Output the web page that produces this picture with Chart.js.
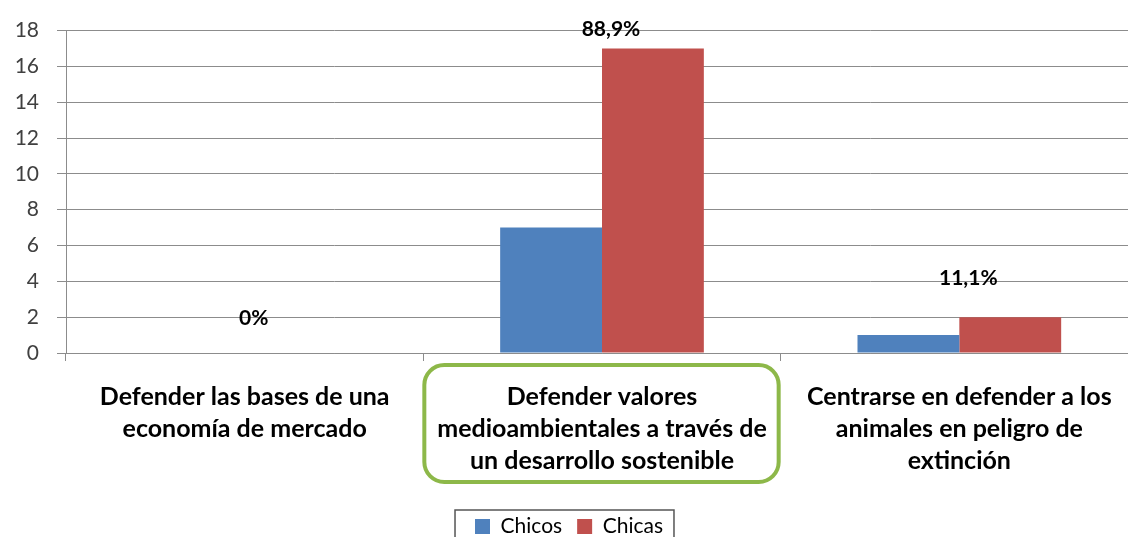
<!DOCTYPE html>
<html>
<head>
<meta charset="utf-8">
<script src="https://cdn.jsdelivr.net/npm/chart.js@4"></script>
<style>
  body { margin: 0; background: #fff; overflow: hidden; }
  #wrap { width: 1140px; height: 547px; }
</style>
</head>
<body>
<div id="wrap"><canvas id="chart" width="1140" height="547"></canvas></div>
<script>
const categories = [
  ["Defender las bases de una", "economía de mercado"],
  ["Defender valores", "medioambientales a través de", "un desarrollo sostenible"],
  ["Centrarse en defender a los", "animales en peligro de", "extinción"]
];
const chicos = [0, 7, 1];
const chicas = [0, 17, 2];
const pctLabels = ["0%", "88,9%", "11,1%"];
const pctLabelAt = [1.93, 18.07, 4.2];
const yTicks = [0, 2, 4, 6, 8, 10, 12, 14, 16, 18];

// percentages above each group
const pctPlugin = {
  id: "pctLabels",
  afterDatasetsDraw(chart) {
    const ctx = chart.ctx;
    const x = chart.scales.x;
    const y = chart.scales.y;
    ctx.save();
    ctx.font = "bold 21px Lato";
    ctx.fillStyle = "#000";
    ctx.textAlign = "center";
    ctx.textBaseline = "middle";
    pctLabels.forEach(function (txt, i) {
      ctx.fillText(txt, x.getPixelForValue(i) + 9, y.getPixelForValue(pctLabelAt[i]));
    });
    ctx.restore();
  }
};

// green box round the middle category + border round the legend
const boxPlugin = {
  id: "boxes",
  afterDraw(chart) {
    const ctx = chart.ctx;
    const x = chart.scales.x;
    const half = (x.getPixelForValue(1) - x.getPixelForValue(0)) / 2;
    const left = x.getPixelForValue(1) - half + 1;
    const right = x.getPixelForValue(1) + half - 2;
    const top = chart.chartArea.bottom + 12;
    const bottom = chart.chartArea.bottom + 129;
    ctx.save();
    ctx.strokeStyle = "#8db849";
    ctx.lineWidth = 4;
    ctx.beginPath();
    ctx.roundRect(left, top, right - left, bottom - top, 20);
    ctx.stroke();

    const boxes = chart.legend.legendHitBoxes;
    if (boxes && boxes.length) {
      const l = boxes[0].left - 20;
      const r = boxes[boxes.length - 1].left + boxes[boxes.length - 1].width + 11;
      const t = boxes[0].top - 6;
      ctx.strokeStyle = "#555";
      ctx.lineWidth = 1.5;
      ctx.strokeRect(l, t, r - l, 60);
    }
    ctx.restore();
  }
};

new Chart(document.getElementById("chart"), {
  type: "bar",
  data: {
    labels: categories,
    datasets: [
      { label: "Chicos", data: chicos, backgroundColor: "#4f81bd" },
      { label: "Chicas", data: chicas, backgroundColor: "#c0504d" }
    ]
  },
  options: {
    responsive: false,
    animation: false,
    layout: { padding: { top: 14.5, left: 0, right: 2, bottom: 0 } },
    datasets: { bar: { categoryPercentage: 0.57, barPercentage: 1 } },
    scales: {
      x: {
        grid: { offset: true, drawOnChartArea: false, tickLength: 8, color: "#8c8c8c" },
        border: { color: "#8c8c8c" },
        ticks: {
          padding: 20,
          maxRotation: 0,
          autoSkip: false,
          color: "#000",
          font: { family: "Lato", size: 25, weight: "bold", lineHeight: 1.28 }
        },
        afterFit: function (scale) { scale.height = 148; }
      },
      y: {
        min: 0,
        max: 18,
        afterBuildTicks: function (scale) {
          scale.ticks = yTicks.map(function (v) { return { value: v }; });
        },
        grid: { color: "#8c8c8c", tickLength: 9 },
        border: { color: "#8c8c8c" },
        ticks: {
          padding: 18,
          color: "#404040",
          font: { family: "Lato", size: 21 }
        },
        afterFit: function (scale) { scale.width = 66; }
      }
    },
    plugins: {
      legend: {
        position: "bottom",
        labels: {
          boxWidth: 15,
          boxHeight: 15,
          padding: 15,
          color: "#000",
          font: { family: "Lato", size: 21 }
        }
      },
      tooltip: { enabled: false }
    }
  },
  plugins: [pctPlugin, boxPlugin]
});
</script>
</body>
</html>
